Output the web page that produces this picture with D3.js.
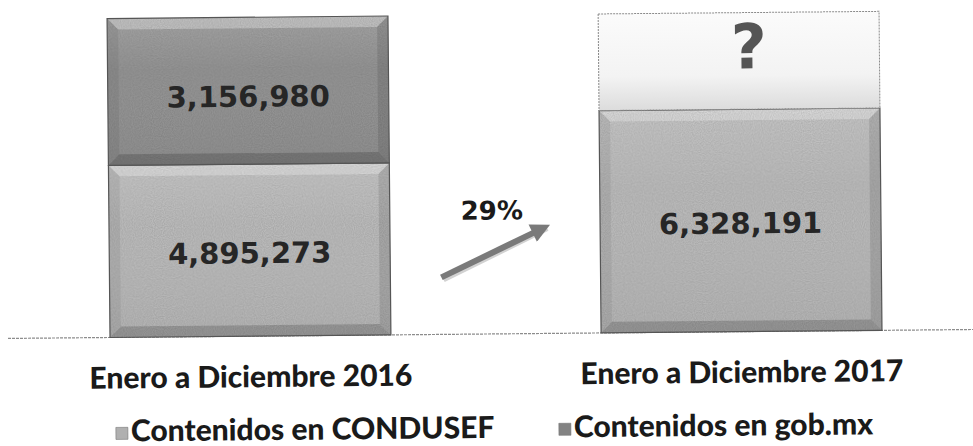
<!DOCTYPE html>
<html>
<head>
<meta charset="utf-8">
<script src="https://cdn.jsdelivr.net/npm/d3@7"></script>
<style>
  html, body { margin: 0; padding: 0; background: #fff; }
  svg { display: block; }
</style>
</head>
<body>
<svg id="chart" width="973" height="446"></svg>
<script>
const WIDTH = 973;
const HEIGHT = 446;
const BASE_Y = 334;
const TOP_Y = 15;

const categories = ["Enero a Diciembre 2016", "Enero a Diciembre 2017"];
const seriesNames = ["Contenidos en CONDUSEF", "Contenidos en gob.mx"];
const condusef = [4895273, 6328191];
const gobmx = [3156980, null];          // 2017 unknown -> "?"
// the gob.mx boxes in the original are not to scale, these are the heights as drawn
const gobmxDrawn = [4180000, 2750000];
const growthLabel = "29%";

const COLORS = {
    condusef: "#bcbcbc",
    gobmx: "#959595",
    unknown: "#eeeeee"
};

const fmt = d3.format(",");

var svg = d3.select("#chart");
var defs = svg.append("defs");

var g = svg.append("g")
    .attr("transform", "rotate(-0.53," + (WIDTH / 2) + "," + BASE_Y + ")");

var x = d3.scaleBand()
    .domain(categories)
    .range([110, 882])
    .paddingInner(0.428)
    .paddingOuter(0);

var y = d3.scaleLinear()
    .domain([0, d3.max(condusef.map((d, i) => d + gobmxDrawn[i]))])
    .range([BASE_Y, TOP_Y]);

// gradient for the unknown box
var grad = defs.append("linearGradient")
    .attr("id", "unknownGrad")
    .attr("x1", 0).attr("y1", 0).attr("x2", 0).attr("y2", 1);
grad.append("stop").attr("offset", "0%").attr("stop-color", "#fbfbfb");
grad.append("stop").attr("offset", "65%").attr("stop-color", "#f3f3f3");
grad.append("stop").attr("offset", "100%").attr("stop-color", "#dcdcdc");

var faceGrad = defs.append("linearGradient")
    .attr("id", "faceGrad")
    .attr("x1", 0).attr("y1", 0).attr("x2", 0).attr("y2", 1);
faceGrad.append("stop").attr("offset", "0%").attr("stop-color", "#fff").attr("stop-opacity", 0.15);
faceGrad.append("stop").attr("offset", "35%").attr("stop-color", "#fff").attr("stop-opacity", 0);
faceGrad.append("stop").attr("offset", "100%").attr("stop-color", "#000").attr("stop-opacity", 0.04);

// light scan grain on the boxes
var grain = defs.append("filter").attr("id", "grain")
    .attr("x", 0).attr("y", 0).attr("width", 1).attr("height", 1);
grain.append("feTurbulence")
    .attr("type", "fractalNoise")
    .attr("baseFrequency", 0.9)
    .attr("numOctaves", 1)
    .attr("seed", 3);
grain.append("feColorMatrix")
    .attr("values", "0 0 0 0 0  0 0 0 0 0  0 0 0 0 0  0 0 0 -0.6 0.45");
grain.append("feComposite").attr("in2", "SourceGraphic").attr("operator", "in");

// box with a soft bevel, like the office "bevel" shape
function bevelBox(sel, bx, by, w, h, color){
    var b = 11;
    var box = sel.append("g");
    box.append("rect")
        .attr("x", bx).attr("y", by).attr("width", w).attr("height", h)
        .attr("fill", color);
    box.append("rect")
        .attr("x", bx).attr("y", by).attr("width", w).attr("height", h)
        .attr("fill", "url(#faceGrad)");
    var pts = [
        [[bx, by], [bx + w, by], [bx + w - b, by + b], [bx + b, by + b], "#fff", 0.32],
        [[bx, by], [bx + b, by + b], [bx + b, by + h - b], [bx, by + h], "#000", 0.06],
        [[bx + w, by], [bx + w, by + h], [bx + w - b, by + h - b], [bx + w - b, by + b], "#000", 0.1],
        [[bx, by + h], [bx + b, by + h - b], [bx + w - b, by + h - b], [bx + w, by + h], "#000", 0.17]
    ];
    pts.forEach(p=>{
        box.append("polygon")
            .attr("points", p.slice(0, 4).map(q=>q.join(",")).join(" "))
            .attr("fill", p[4])
            .attr("fill-opacity", p[5]);
    });
    box.append("rect")
        .attr("x", bx).attr("y", by).attr("width", w).attr("height", h)
        .attr("fill", "#000")
        .attr("filter", "url(#grain)")
        .attr("opacity", 0.35);
    box.append("rect")
        .attr("x", bx).attr("y", by).attr("width", w).attr("height", h)
        .attr("fill", "none")
        .attr("stroke", "#555")
        .attr("stroke-width", 1.2);
    return box;
}

// baseline
g.append("line")
    .attr("x1", 8).attr("x2", WIDTH + 10)
    .attr("y1", BASE_Y).attr("y2", BASE_Y)
    .attr("stroke", "#8c8c8c")
    .attr("stroke-width", 1.2)
    .attr("stroke-dasharray", "3,1");

categories.forEach((c, i)=>{
    var bx = x(c), bw = x.bandwidth();
    // CONDUSEF (bottom)
    var y0 = y(condusef[i]);
    bevelBox(g, bx, y0, bw, BASE_Y - y0, COLORS.condusef);
    g.append("text")
        .attr("x", bx + bw / 2)
        .attr("y", (y0 + BASE_Y) / 2 + 3)
        .attr("text-anchor", "middle")
        .attr("dominant-baseline", "central")
        .attr("font-family", "DejaVu Sans")
        .attr("font-weight", "bold")
        .attr("font-size", 29)
        .attr("fill", "#262626")
        .text(fmt(condusef[i]));

    // gob.mx (top)
    var y1 = y(condusef[i] + gobmxDrawn[i]);
    if (gobmx[i] != null){
        bevelBox(g, bx, y1, bw, y0 - y1, COLORS.gobmx);
        g.append("text")
            .attr("x", bx + bw / 2)
            .attr("y", (y1 + y0) / 2 + 6)
            .attr("text-anchor", "middle")
            .attr("dominant-baseline", "central")
            .attr("font-family", "DejaVu Sans")
            .attr("font-weight", "bold")
            .attr("font-size", 29)
            .attr("fill", "#262626")
            .text(fmt(gobmx[i]));
    } else {
        g.append("rect")
            .attr("x", bx).attr("y", y1).attr("width", bw).attr("height", y0 - y1)
            .attr("fill", "url(#unknownGrad)")
            .attr("stroke", "#8a8a8a")
            .attr("stroke-width", 1)
            .attr("stroke-dasharray", "2,1");
        g.append("text")
            .attr("x", bx + bw / 2 + 10)
            .attr("y", (y1 + y0) / 2 - 14)
            .attr("text-anchor", "middle")
            .attr("dominant-baseline", "central")
            .attr("font-family", "DejaVu Sans")
            .attr("font-weight", "bold")
            .attr("font-size", 62)
            .attr("fill", "#555")
            .text("?");
    }

    // category label
    g.append("text")
        .attr("x", bx + bw / 2)
        .attr("y", BASE_Y + 51)
        .attr("text-anchor", "middle")
        .attr("font-family", "Lato")
        .attr("font-weight", 900)
        .attr("font-size", 30)
        .attr("fill", "#1a1a1a")
        .text(c);
});

// growth arrow between the two CONDUSEF values
var ax0 = x(categories[0]) + x.bandwidth() + 51;
var ax1 = x(categories[1]) - 43;
var ay0 = y(condusef[0]) + 115;
var ay1 = y(condusef[1]) + 110;

var marker = defs.append("marker")
    .attr("id", "head")
    .attr("viewBox", "0 0 10 10")
    .attr("refX", 6).attr("refY", 5)
    .attr("markerWidth", 3.6).attr("markerHeight", 3.2)
    .attr("orient", "auto");
marker.append("path")
    .attr("d", "M0,0 L10,5 L0,10 Z")
    .attr("fill", "#7a7a7a");

g.append("line")
    .attr("x1", ax0 + 2).attr("y1", ay0 + 2)
    .attr("x2", ax1 - 10).attr("y2", ay1 + 7)
    .attr("stroke", "#d2d2d2")
    .attr("stroke-width", 6);
g.append("line")
    .attr("x1", ax0).attr("y1", ay0)
    .attr("x2", ax1 - 14).attr("y2", ay1 + 7)
    .attr("stroke", "#7a7a7a")
    .attr("stroke-width", 6)
    .attr("marker-end", "url(#head)");

g.append("text")
    .attr("x", ax0 + 51)
    .attr("y", ay1 - 2)
    .attr("text-anchor", "middle")
    .attr("font-family", "DejaVu Sans")
    .attr("font-weight", "bold")
    .attr("font-size", 26)
    .attr("fill", "#1a1a1a")
    .text(growthLabel);

// legend
var legendX = [115, 558];
var legendColors = ["#b0b0b0", "#838383"];
seriesNames.forEach((name, i)=>{
    var lg = g.append("g").attr("transform", "translate(" + legendX[i] + "," + (BASE_Y + 104) + ")");
    lg.append("rect")
        .attr("x", 0).attr("y", -14)
        .attr("width", 12).attr("height", 12)
        .attr("fill", legendColors[i])
        .attr("stroke", "#777")
        .attr("stroke-width", 0.6);
    lg.append("text")
        .attr("x", 15)
        .attr("y", 0)
        .attr("font-family", "Lato")
        .attr("font-weight", 900)
        .attr("font-size", 30)
        .attr("fill", "#1a1a1a")
        .text(name);
});
</script>
</body>
</html>
